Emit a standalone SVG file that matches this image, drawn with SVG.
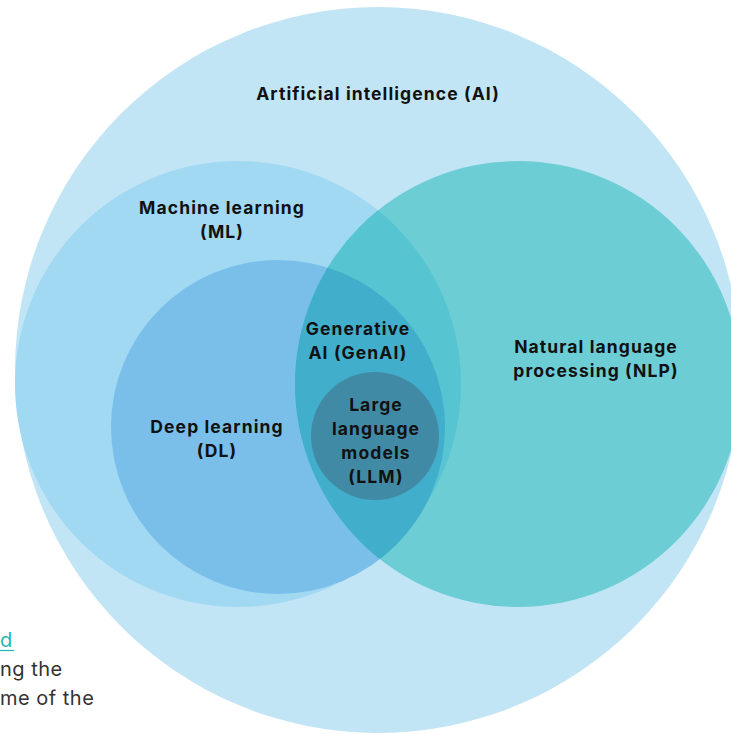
<svg xmlns="http://www.w3.org/2000/svg" width="731" height="734" viewBox="0 0 731 734">
<style>
.lbl{font-family:Inter,"Liberation Sans",sans-serif;font-weight:700;font-size:17.5px;letter-spacing:1.1px;fill:#111;text-anchor:middle}
.body{font-family:Inter,"Liberation Sans",sans-serif;font-weight:400;font-size:20px;letter-spacing:0.5px;fill:#333}
</style>
<defs>
<clipPath id="clipML"><circle cx="238" cy="384" r="223"/></clipPath>
<clipPath id="clipDL"><circle cx="278" cy="427" r="167"/></clipPath>
</defs>
<rect width="731" height="734" fill="#ffffff"/>
<g id="ai">
<circle cx="378" cy="370" r="363" fill="#c2e5f5"/>
<text class="lbl" x="378" y="100">Artificial intelligence (AI)</text>
</g>
<g id="ml">
<circle cx="238" cy="384" r="223" fill="#a1d8f2"/>
</g>
<g id="dl">
<circle cx="278" cy="427" r="167" fill="#79bfea"/>
</g>
<g id="nlp">
<circle cx="518" cy="384" r="223" fill="#6dcdd4"/>
<circle cx="518" cy="384" r="223" fill="#57c4d2" clip-path="url(#clipML)"/>
</g>
<g id="genai">
<circle cx="518" cy="384" r="223" fill="#41aecb" clip-path="url(#clipDL)"/>
</g>
<g id="llm">
<circle cx="375" cy="436" r="64" fill="#418aa6"/>
</g>
<g id="labels">
<text class="lbl" x="222" y="214">Machine learning</text>
<text class="lbl" x="222" y="238">(ML)</text>
<text class="lbl" x="217" y="433">Deep learning</text>
<text class="lbl" x="217" y="457">(DL)</text>
<text class="lbl" x="596" y="353">Natural language</text>
<text class="lbl" x="596" y="377">processing (NLP)</text>
<text class="lbl" x="358" y="335">Generative</text>
<text class="lbl" x="358" y="359">AI (GenAI)</text>
<text class="lbl" x="376" y="411">Large</text>
<text class="lbl" x="376" y="435">language</text>
<text class="lbl" x="376" y="459">models</text>
<text class="lbl" x="376" y="483">(LLM)</text>
</g>
<g id="bodytext">
<text class="body" x="0" y="647" style="fill:#1fb5b8">d</text>
<line x1="0" y1="650.5" x2="14" y2="650.5" stroke="#1fb5b8" stroke-width="1.2"/>
<text class="body" x="0" y="676">ng the</text>
<text class="body" x="0" y="705">me of the</text>
</g>
<g id="connectors"></g>
</svg>
